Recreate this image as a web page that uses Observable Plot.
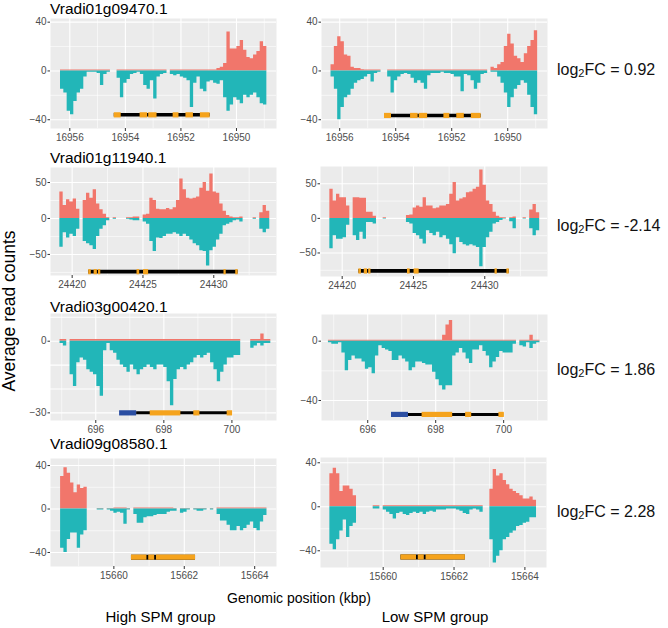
<!DOCTYPE html>
<html><head><meta charset="utf-8">
<script src="https://cdn.jsdelivr.net/npm/d3@7"></script>
<script src="https://cdn.jsdelivr.net/npm/@observablehq/plot@0.6"></script>
<style>
body{margin:0;background:#fff;}
#chart{position:relative;width:668px;height:628px;overflow:hidden;background:#fff;font-family:"Liberation Sans",Arial,sans-serif;}
#chart svg{position:absolute;}
</style></head><body><div id="chart"></div>
<script>
// ---------------- data ----------------
const genes = ["Vradi01g09470.1", "Vradi01g11940.1", "Vradi03g00420.1", "Vradi09g08580.1"];
const log2FC = ["0.92", "-2.14", "1.86", "2.28"];
const groups = ["High SPM group", "Low SPM group"];
const yTitle = "Average read counts";
const xTitle = "Genomic position (kbp)";

// coverage bins (kbp): first bin start and bin width, per panel
const bins1High = [16956.335, -0.1198], bins1Low = [16956.31, -0.119];
const bins2High = [24419.13, 0.2353],  bins2Low = [24419.135, 0.2336];
const bins3High = [694.95, 0.0983],    bins3Low = [694.844, 0.0988];
const bins4High = [15658.487, 0.09456], bins4Low = [15658.494, 0.0941];

// read counts: positive (red) and negative (teal) strands
const hi1Pos = [0.8,0.8,0.8,0.8,0.8,0.8,0.8,0.8,0.8,0.8, 0.8,0.8,0.8,0.8,0.8,null,null,0.8,0.8,0.8, 0.8,0.8,0.8,0.8,0.8,0.8,0.8,0.8,0.8,0.8, 0.8,0.8,null,0.8,0.8,0.8,0.8,0.8,0.8,0.8, 0.8,0.8,0.8,0.8,0.8,0.8,0.8,2,3,6, 32,18,18,20,25,17,11,10,13,16, 24,20];
const hi1Neg = [-15,-18,-33,-36,-25,-18,-15,-5,-1,-1, -1,-2,-12,-3,-1,null,null,-6,-22,-10, -7,-3,-2,-1,-3,-12,-15,-8,-23,-5, -3,-2,null,-3,-4,-3,-5,-6,-8,-30, -10,-5,-15,-17,-9,-8,-10,-11,-8,-22, -33,-28,-22,-24,-27,-20,-22,-20,-18,-22, -27,-28];
const lo1Pos = [5,20,28,24,13,12,3,2,2,1, 0.8,0.8,0.8,0.8,0.8,null,null,0.8,0.8,0.8, 0.8,0.8,0.8,0.8,0.8,0.8,0.8,0.8,0.8,0.8, 0.8,0.8,0.8,0.8,0.8,0.8,0.8,0.8,0.8,0.8, 0.8,0.8,0.8,0.8,0.8,0.8,0.8,null,3,2, 5,7,20,30,22,12,10,7,14,20, 25,33];
const lo1Neg = [-5,-15,-40,-30,-22,-20,-15,-10,-8,-7, -5,-3,-9,-2,-1,null,null,-5,-18,-8, -5,-3,-2,-3,-6,-10,-8,-10,-15,-4, -2,-2,-2,-1,-2,-2,-3,-5,-5,-17, -3,-4,-8,-15,-10,-3,-2,null,-1,-1, -5,-10,-18,-30,-22,-15,-12,-8,-10,-20, -30,-36];

const hi2Pos = [37,18,26,23,27,13,null,25,35,28, 40,20,12,6,1,null,1,null,null,null, 1,1,2,2,null,5,6,28,25,13, 12,12,14,12,15,25,55,40,28,27, 28,30,42,50,38,62,37,35,20,10, 4,2,1,1,2,null,null,null,1,null, 8,18,10];
const hi2Neg = [-40,-20,-27,-22,-25,-15,null,-32,-35,-38, -43,-25,-15,-10,-3,null,-1,null,null,null, -1,-2,-3,-3,null,-5,-8,-32,-46,-27, -28,-25,-22,-22,-20,-22,-25,-22,-25,-30, -35,-38,-45,-46,-66,-45,-40,-30,-22,-10, -8,-6,-3,-2,-5,null,null,null,-1,null, -15,-20,-15];
const lo2Pos = [42,25,35,30,30,18,null,30,30,29, 29,9,9,3,null,null,1,null,null,null, null,null,null,4,5,15,18,16,30,18, 18,14,15,18,18,20,35,52,25,28, 30,37,38,42,45,70,48,25,20,9, 3,1,1,null,1,2,null,null,1,null, 12,20,8];
const lo2Neg = [-44,-25,-30,-30,-28,-10,null,-25,-32,-20, -30,-6,-6,-8,null,null,-1,null,null,null, null,null,null,-6,-8,-22,-25,-30,-37,-18, -22,-25,-20,-28,-25,-30,-38,-51,-28,-35, -38,-40,-38,-40,-42,-70,-42,-28,-20,-8, -6,-3,-1,null,-5,-15,null,null,-1,null, -15,-25,-18];

const hi3Pos = [0.7,0.7,null,0.7,0.7,0.7,0.7,0.7,0.7,0.7, 0.7,0.7,0.7,0.7,0.7,0.7,0.7,0.7,0.7,0.7, 0.7,0.7,0.7,0.7,0.7,0.7,0.7,0.7,0.7,0.7, 0.7,0.7,0.7,0.7,0.7,0.7,0.7,0.7,0.7,0.7, 0.7,0.7,0.7,0.7,0.7,0.7,0.7,0.7,0.7,0.7, 0.7,0.7,0.7,0.7,null,null,null,0.7,0.7,0.7, 3,0.7,0.7];
const hi3Neg = [-1,-2,null,-14,-19,-9,-7,-8,-12,-13, -14,-19,-23,-4,-1,-4,-5,-8,-10,-11, -13,-10,-12,-14,-12,-11,-10,-11,-12,-10, -10,-11,-17,-27,-16,-12,-11,-12,-10,-9, -7,-6,-7,-6,-5,-9,-12,-17,-13,-10, -7,-7,-6,-6,null,null,null,-3,-2,-1, -2,-1,-1];
const lo3Pos = [0.7,0.7,0.7,0.7,0.7,0.7,0.7,0.7,0.7,0.7, 0.7,0.7,0.7,0.7,0.7,0.7,0.7,0.7,0.7,0.7, 0.7,0.7,0.7,0.7,0.7,0.7,0.7,0.7,0.7,0.7, 0.7,0.7,0.7,0.7,4,11,14,0.7,0.7,0.7, 0.7,0.7,0.7,0.7,0.7,0.7,0.7,0.7,0.7,0.7, 0.7,0.7,0.7,0.7,0.7,0.7,null,0.7,0.7,0.7, 4,0.7,0.7];
const lo3Neg = [-1,-2,-2,-1,-8,-20,-13,-10,-12,-12, -14,-19,-18,-22,-10,-3,-5,-6,-7,-13, -13,-10,-12,-14,-20,-18,-14,-14,-15,-16, -16,-21,-26,-30,-33,-30,-30,-10,-8,-5, -8,-12,-15,-6,-6,-3,-7,-10,-18,-14, -11,-7,-8,-8,-8,-2,null,-3,-4,-1, -5,-2,-1];

const hi4Pos = [30,38,33,24,15,22,19,20,null,null, null,0.5,0.5,null,0.5,0.5,1,1,1,1, 0.5,null,1,1,1,1,1,1,1,1, 1,1,1,1,0.5,null,0.5,0.5,0.5,null, 0.5,0.5,0.5,0.5,null,0.5,null,1,1,1, 1,1,1,1,1,1,1,1,1,1, 1,1];
const hi4Neg = [-36,-40,-28,-22,-22,-36,-24,-20,null,null, null,-1,-1,null,-1,-2,-4,-3,-4,-14, -1,null,-5,-13,-13,-8,-7,-7,-6,-5, -5,-5,-3,-2,-2,null,-4,-3,-1,null, -1,-2,-2,-1,null,-1,null,-5,-11,-11, -15,-20,-20,-16,-20,-18,-15,-12,-18,-20, -12,-6];
const lo4Pos = [30,35,30,14,19,19,16,10,null,null, null,null,null,1,1,null,1,1,1,1, 1,1,1,1,1,1,1,1,1,1, 1,1,1,1,1,1,1,1,1,1, 1,1,1,1,1,1,null,null,16,34, 28,30,24,20,16,14,12,10,7,7, 9,6];
const lo4Neg = [-34,-39,-30,-22,-12,-28,-18,-15,null,null, null,null,null,-2,-2,null,-3,-5,-7,-11, -6,-5,-7,-8,-6,-5,-6,-5,-7,-5, -4,-5,-3,-3,-3,-2,-2,-2,-3,-4, -6,-7,-3,-2,-3,-5,null,null,-30,-51, -45,-40,-30,-28,-24,-22,-18,-17,-15,-14, -10,-10];

// gene models (kbp): intron span, exons, UTR
const gene1Span = [[16954.40, 16950.95]];
const gene1Exons = [[16954.40,16954.15],[16953.47,16953.20],[16953.16,16952.86],[16952.28,16952.07],[16951.82,16951.55],[16951.30,16950.95]];
const gene2Span = [[24421.17, 24431.72]];
const gene2Exons = [[24421.17,24421.35],[24421.55,24421.78],[24421.86,24422.02],[24424.58,24424.77],[24425.04,24425.40],[24430.72,24430.88],[24431.55,24431.72]];
const gene3Span = [[697.20, 700.0]];
const gene3Utr = [[696.70, 697.20]];
const gene3Exons = [[697.60,698.50],[698.88,699.06],[699.86,700.02]];
const gene4Span = [[15660.50, 15662.32]];
const gene4Exons = [[15660.50,15660.94],[15660.99,15661.16],[15661.21,15662.32]];

// tick labels
const ticks1X = [16956, 16954, 16952, 16950], ticks1Y = [-40, 0, 40];
const ticks2X = [24420, 24425, 24430], ticks2Y = [-50, 0, 50];
const ticks3X = [696, 698, 700], ticks3YHigh = [-30, 0], ticks3YLow = [-40, 0];
const ticks4X = [15660, 15662, 15664], ticks4Y = [-40, 0, 40];
const grid3YHigh = [-30, -20, -10, 0, 10];

// ---------------- drawing ----------------
const RED = "#F1766B", TEAL = "#22B6B8", ORANGE = "#F5A31C", BLUE = "#2B4EA2";
const FONT = "Liberation Sans, Arial, Helvetica, sans-serif";

function toArea(bins, vals) {
  const [start, step] = bins, out = [];
  vals.forEach((v, i) => {
    const x = start + i * step;
    if (v == null) { out.push({x, v: null}); return; }
    out.push({x, v});
    if (i === vals.length - 1 || vals[i + 1] == null) out.push({x: x + step, v});
  });
  return out;
}
function minorOf(ticks, dom) {
  const lo = Math.min(...dom), hi = Math.max(...dom);
  const s = [...ticks].sort((a, b) => a - b), d = s[1] - s[0], out = [];
  for (let t = s[0] - d / 2; t <= s[s.length - 1] + d / 2 + 1e-9; t += d) if (t > lo && t < hi) out.push(t);
  return out;
}
const fmt = d => (d < 0 ? "\u2212" : "") + Math.abs(d);

const panels = [
  {box:[50,18,276,128], xdom:[16956.695,16948.56], ydom:[-47.2,43], bins:bins1High, pos:hi1Pos, neg:hi1Neg, span:gene1Span, exons:gene1Exons, geneY:-36, xt:ticks1X, yt:ticks1Y, iw:3.5},
  {box:[321,18,547,128], xdom:[16956.65,16948.58], ydom:[-47.2,43], bins:bins1Low, pos:lo1Pos, neg:lo1Neg, span:gene1Span, exons:gene1Exons, geneY:-36.5, xt:ticks1X, yt:ticks1Y, iw:3.5},
  {box:[50,167,276,275], xdom:[24418.47,24434.43], ydom:[-79.3,70.9], bins:bins2High, pos:hi2Pos, neg:hi2Neg, span:gene2Span, exons:gene2Exons, geneY:-74, xt:ticks2X, yt:ticks2Y, iw:3.8},
  {box:[320,166,547,276], xdom:[24418.48,24434.4], ydom:[-84,75], bins:bins2Low, pos:lo2Pos, neg:lo2Neg, span:gene2Span, exons:gene2Exons, geneY:-76, xt:ticks2X, yt:ticks2Y, iw:3.8},
  {box:[50,313,276,420], xdom:[694.67,701.31], ydom:[-33.2,11.6], bins:bins3High, pos:hi3Pos, neg:hi3Neg, span:gene3Span, exons:gene3Exons, utr:gene3Utr, geneY:-30, xt:ticks3X, yt:ticks3YHigh, gridY:grid3YHigh, iw:3},
  {box:[321,314,547,420], xdom:[694.64,701.29], ydom:[-53.5,18], bins:bins3Low, pos:lo3Pos, neg:lo3Neg, span:gene3Span, exons:gene3Exons, utr:gene3Utr, geneY:-49.4, xt:ticks3X, yt:ticks3YLow, iw:3},
  {box:[50,458,276,566], xdom:[15658.2,15664.62], ydom:[-52.9,46.5], bins:bins4High, pos:hi4Pos, neg:hi4Neg, span:gene4Span, exons:gene4Exons, geneY:-44.3, xt:ticks4X, yt:ticks4Y, iw:5},
  {box:[320,457,546,567], xdom:[15658.23,15664.61], ydom:[-55.2,44.8], bins:bins4Low, pos:lo4Pos, neg:lo4Neg, span:gene4Span, exons:gene4Exons, geneY:-45.6, xt:ticks4X, yt:ticks4Y, iw:5}
];

const chart = document.getElementById("chart");
const ML = 40, MR = 6, MT = 4, MB = 24;

panels.forEach(p => {
  const w = p.box[2] - p.box[0], h = p.box[3] - p.box[1];
  const majorY = p.gridY || p.yt;
  const minorY = p.gridY ? [] : minorOf(p.yt, p.ydom);
  const minorX = minorOf(p.xt, p.xdom);
  const marks = [
    Plot.frame({fill: "#EBEBEB", stroke: "none"}),
    Plot.gridY({ticks: minorY, stroke: "white", strokeOpacity: 1, strokeWidth: 0.6}),
    Plot.gridX({ticks: minorX, stroke: "white", strokeOpacity: 1, strokeWidth: 0.6}),
    Plot.gridY({ticks: majorY, stroke: "white", strokeOpacity: 1, strokeWidth: 1.1}),
    Plot.gridX({ticks: p.xt, stroke: "white", strokeOpacity: 1, strokeWidth: 1.1}),
    Plot.areaY(toArea(p.bins, p.pos), {x: "x", y1: 0, y2: "v", curve: "step-after", fill: RED}),
    Plot.areaY(toArea(p.bins, p.neg), {x: "x", y1: 0, y2: "v", curve: "step-after", fill: TEAL}),
    Plot.ruleY(p.span, {x1: d => d[0], x2: d => d[1], y: () => p.geneY, stroke: "black", strokeWidth: p.iw}),
    Plot.ruleY(p.exons, {x1: d => d[0], x2: d => d[1], y: () => p.geneY, stroke: ORANGE, strokeWidth: 5.2})
  ];
  if (p.utr) marks.push(Plot.ruleY(p.utr, {x1: d => d[0], x2: d => d[1], y: () => p.geneY, stroke: BLUE, strokeWidth: 5.2}));
  marks.push(
    Plot.axisX({ticks: p.xt, tickFormat: fmt, tickSize: 3, tickPadding: 2, stroke: "#333", fill: "#4D4D4D", fontSize: 10, label: null, anchor: "bottom"}),
    Plot.axisY({ticks: p.yt, tickFormat: fmt, tickSize: 2.5, tickPadding: 1.5, stroke: "#333", fill: "#4D4D4D", fontSize: 10, label: null, anchor: "left"})
  );
  const svg = Plot.plot({
    width: w + ML + MR, height: h + MT + MB,
    marginLeft: ML, marginRight: MR, marginTop: MT, marginBottom: MB,
    x: {domain: p.xdom}, y: {domain: p.ydom},
    style: {fontFamily: FONT, fontSize: "10px", background: "none", overflow: "visible"},
    marks
  });
  svg.style.left = (p.box[0] - ML) + "px";
  svg.style.top = (p.box[1] - MT) + "px";
  chart.appendChild(svg);
});

// ---------------- text overlay ----------------
const ov = d3.select(chart).append("svg").attr("width", 668).attr("height", 628)
  .style("left", "0px").style("top", "0px").style("pointer-events", "none")
  .attr("font-family", FONT);

const titleY = [14, 162.7, 311.7, 449.3];
genes.forEach((g, i) => ov.append("text").attr("x", 50).attr("y", titleY[i]).attr("font-size", 15.5).attr("fill", "#000").text(g));

const fcY = [74.5, 230.7, 375, 517];
log2FC.forEach((v, i) => {
  const t = ov.append("text").attr("x", 557).attr("y", fcY[i]).attr("font-size", 16).attr("fill", "#111");
  t.append("tspan").text("log");
  t.append("tspan").attr("font-size", 11).attr("dy", 2).text("2");
  t.append("tspan").attr("dy", -2).text("FC = " + v);
});

ov.append("text").attr("transform", "translate(15,311) rotate(-90)").attr("text-anchor", "middle")
  .attr("font-size", 17.5).attr("fill", "#000").text(yTitle);
ov.append("text").attr("x", 299).attr("y", 603).attr("text-anchor", "middle").attr("font-size", 14).attr("fill", "#000").text(xTitle);
const groupX = [160.5, 435];
groups.forEach((g, i) => ov.append("text").attr("x", groupX[i]).attr("y", 621.5).attr("text-anchor", "middle").attr("font-size", 15).attr("fill", "#000").text(g));
</script></body></html>
